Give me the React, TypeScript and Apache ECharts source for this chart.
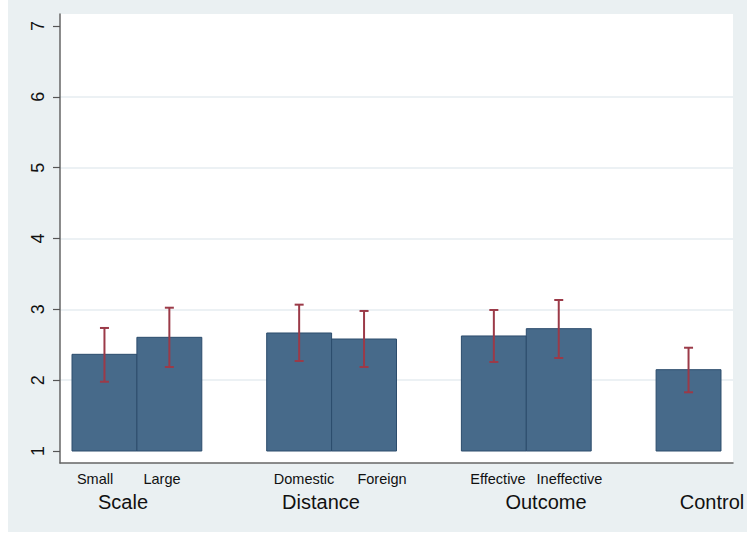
import React, { useEffect, useRef } from "react";
import * as echarts from "echarts";

const categories = ["Small", "Large", "Domestic", "Foreign", "Effective", "Ineffective", "Control"];
const groups = ["Scale", "Distance", "Outcome", "Control"];
const means = [2.365, 2.605, 2.666, 2.581, 2.624, 2.727, 2.148];
const upper = [2.737, 3.023, 3.066, 2.977, 2.991, 3.132, 2.458];
const lower = [1.978, 2.186, 2.271, 2.186, 2.257, 2.313, 1.829];
const yTicks = [1, 2, 3, 4, 5, 6, 7];

// layout (slot positions of bars on the hidden value x-axis)
const slots = [1, 2, 4, 5, 7, 8, 10];
const subLabelX = [87, 154, 296, 374, 490, 561.5];
const groupLabelX = [115, 313, 538, 704];
const X_MIN = 0.315;
const X_MAX = 10.685;

export default function App() {
  const ref = useRef<HTMLDivElement>(null);
  useEffect(() => {
    if (!ref.current) return;
    const chart = echarts.init(ref.current, null, { renderer: "svg" });
    const barData = categories.map((c, i) => [slots[i], means[i], i]);
    const errData = categories.map((c, i) => [slots[i], lower[i], upper[i]]);
    const tickData = yTicks.map((t) => [X_MIN, t]);
    const font = "Liberation Sans, Arial, Helvetica, sans-serif";
    const graphics: any[] = [];
    categories.slice(0, 6).forEach((c, i) => {
      graphics.push({
        type: "text",
        x: subLabelX[i],
        y: 479,
        style: { text: c, fill: "#111", font: `14.5px ${font}`, textAlign: "center", textVerticalAlign: "middle" },
      });
    });
    groups.forEach((g, i) => {
      graphics.push({
        type: "text",
        x: groupLabelX[i],
        y: 502,
        style: { text: g, fill: "#111", font: `20px ${font}`, textAlign: "center", textVerticalAlign: "middle" },
      });
    });
    chart.setOption({
      animation: false,
      backgroundColor: "#eaf0f2",
      textStyle: { fontFamily: font },
      grid: [
        { left: 52, right: 14, top: 14, bottom: 69, show: true, backgroundColor: "#ffffff", borderWidth: 0 },
        { left: 52, right: 14, top: 26, bottom: 81 },
      ],
      xAxis: [
        {
          gridIndex: 0, type: "value", min: 0, max: 1,
          axisLine: { show: true, lineStyle: { color: "#666", width: 1.5 } },
          axisTick: { show: false }, axisLabel: { show: false }, splitLine: { show: false },
        },
        {
          gridIndex: 1, type: "value", min: X_MIN, max: X_MAX, show: false,
        },
      ],
      yAxis: [
        {
          gridIndex: 0, type: "value", min: 0, max: 1,
          axisLine: { show: true, lineStyle: { color: "#666", width: 1.5 } },
          axisTick: { show: false }, axisLabel: { show: false }, splitLine: { show: false },
        },
        {
          gridIndex: 1, type: "value", min: yTicks[0], max: yTicks[yTicks.length - 1], interval: 1,
          axisLine: { show: false },
          axisTick: { show: true, length: 7, lineStyle: { color: "#555", width: 1.2 } },
          axisLabel: { show: false },
          splitLine: {
            show: true,
            lineStyle: {
              color: ["transparent", "#e6edf0", "#e6edf0", "#e6edf0", "#e6edf0", "#e6edf0", "transparent"],
              width: 1.5,
            },
          },
        },
      ],
      graphic: graphics,
      series: [
        {
          type: "custom",
          xAxisIndex: 1,
          yAxisIndex: 1,
          data: barData,
          renderItem: (params: any, api: any) => {
            const x = api.value(0);
            const v = api.value(1);
            const p1 = api.coord([x - 0.5, v]);
            const p2 = api.coord([x + 0.5, 1]);
            return {
              type: "rect",
              shape: { x: p1[0], y: p1[1], width: p2[0] - p1[0], height: p2[1] - p1[1] },
              style: { fill: "#476a8a", stroke: "#2c4c6c", lineWidth: 1 },
            };
          },
        },
        {
          type: "custom",
          xAxisIndex: 1,
          yAxisIndex: 1,
          data: errData,
          renderItem: (params: any, api: any) => {
            const x = api.value(0);
            const lo = api.coord([x, api.value(1)]);
            const hi = api.coord([x, api.value(2)]);
            const c = 4.5;
            const style = { stroke: "#9b3a48", lineWidth: 2 };
            return {
              type: "group",
              children: [
                { type: "line", shape: { x1: hi[0], y1: hi[1], x2: lo[0], y2: lo[1] }, style },
                { type: "line", shape: { x1: hi[0] - c, y1: hi[1], x2: hi[0] + c, y2: hi[1] }, style },
                { type: "line", shape: { x1: lo[0] - c, y1: lo[1], x2: lo[0] + c, y2: lo[1] }, style },
              ],
            };
          },
        },
        {
          type: "custom",
          xAxisIndex: 1,
          yAxisIndex: 1,
          clip: false,
          silent: true,
          data: tickData,
          renderItem: (params: any, api: any) => {
            const p = api.coord([api.value(0), api.value(1)]);
            return {
              type: "text",
              x: p[0] - 22,
              y: p[1],
              rotation: Math.PI / 2,
              style: {
                text: String(api.value(1)),
                fill: "#111",
                font: `18px ${font}`,
                textAlign: "center",
                textVerticalAlign: "middle",
              },
            };
          },
        },
      ],
    });
    return () => chart.dispose();
  }, []);
  return (
    <div
      ref={ref}
      style={{ position: "absolute", left: 8, top: 0, width: 739, height: 532 }}
    />
  );
}
